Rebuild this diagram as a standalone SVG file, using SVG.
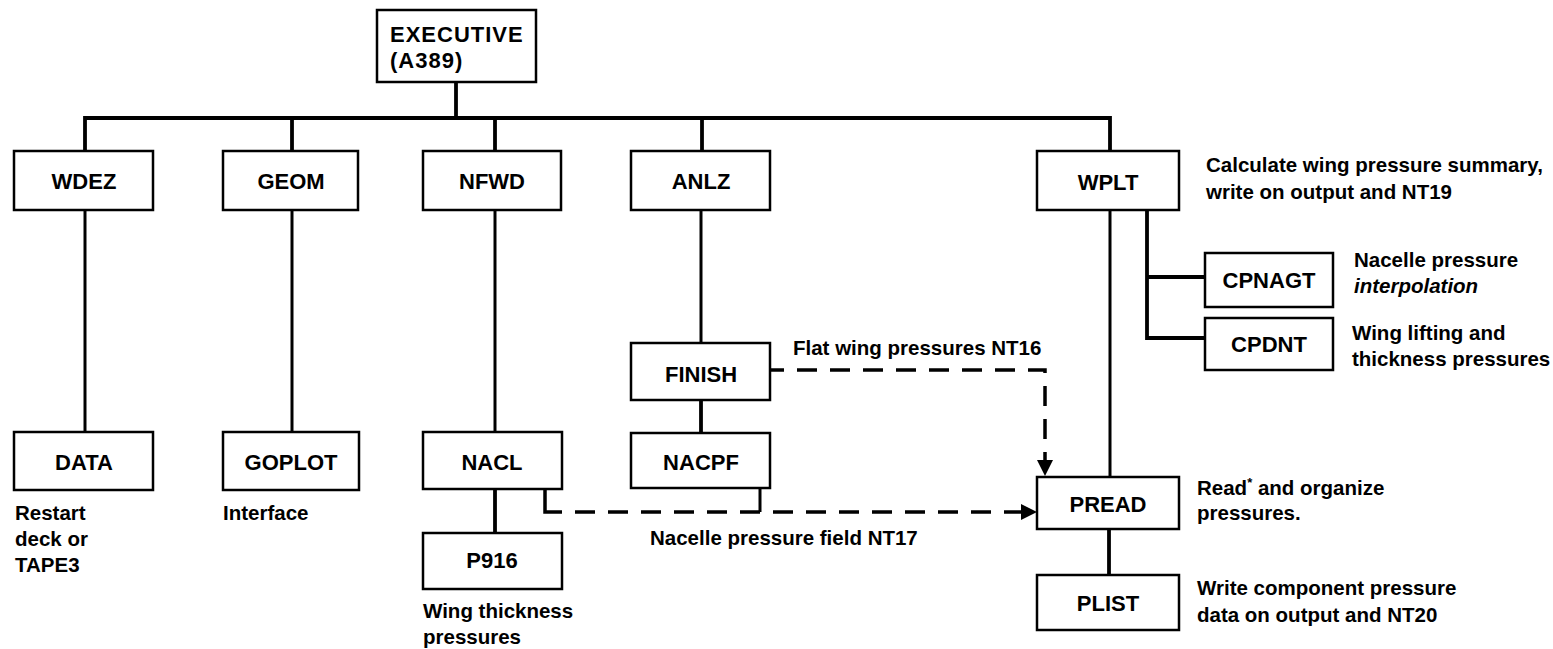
<svg xmlns="http://www.w3.org/2000/svg" width="1553" height="649" viewBox="0 0 1553 649">
<defs>
<style>
.box{fill:#fff;stroke:#000;stroke-width:2.5}
.lbl{font-family:"Liberation Sans",Arial,sans-serif;font-weight:bold;font-size:22px;fill:#000;text-anchor:middle}
.lbl-left{font-family:"Liberation Sans",Arial,sans-serif;font-weight:bold;font-size:22px;fill:#000;letter-spacing:1px}
.desc{font-family:"Liberation Sans",Arial,sans-serif;font-weight:bold;font-size:20.5px;fill:#000}
.solid{fill:none;stroke:#000;stroke-width:3.8}
.thin{fill:none;stroke:#000;stroke-width:3}
.dash{fill:none;stroke:#000;stroke-width:3.5;stroke-dasharray:20 13}
.corner{fill:none;stroke:#000;stroke-width:3.5}
</style>
<marker id="arrow" markerUnits="userSpaceOnUse" markerWidth="16" markerHeight="16" refX="9" refY="8" orient="auto">
<path d="M0,0 L16,8 L0,16 Z" fill="#000"/>
</marker>
</defs>
<rect width="1553" height="649" fill="#fff"/>

<g id="connectors">
<path class="solid" d="M456,82 V118"/>
<path class="solid" d="M85,151 V118 H1110 V151"/>
<path class="solid" d="M292,118 V151"/>
<path class="solid" d="M495,118 V151"/>
<path class="solid" d="M702,118 V151"/>
<path class="thin" d="M85,210 V432"/>
<path class="thin" d="M292,210 V432"/>
<path class="thin" d="M495,210 V432"/>
<path class="solid" d="M495,489 V533"/>
<path class="thin" d="M701,210 V343"/>
<path class="solid" d="M701,400 V433"/>
<path class="thin" d="M1110,210 V477"/>
<path class="solid" d="M1147,210 V338 H1205"/>
<path class="solid" d="M1147,277 H1205"/>
<path class="solid" d="M1109,529 V575"/>
<path class="thin" d="M760,488 V512"/>
<path class="corner" d="M545,489 V512 H562"/>
<path class="dash" d="M575,512 H1030" marker-end="url(#arrow)"/>
<path class="corner" d="M770,370 H784"/>
<path class="dash" d="M797,370 H1045 V469" marker-end="url(#arrow)"/>
</g>

<g id="executive">
<rect class="box" x="377" y="10" width="159" height="72"/>
<text class="lbl-left" x="390" y="42">EXECUTIVE</text>
<text class="lbl-left" x="390" y="68">(A389)</text>
</g>

<g id="wdez">
<rect class="box" x="14" y="151" width="139" height="59"/>
<text class="lbl" x="84" y="189">WDEZ</text>
</g>
<g id="geom">
<rect class="box" x="223" y="151" width="135" height="59"/>
<text class="lbl" x="291" y="189">GEOM</text>
</g>
<g id="nfwd">
<rect class="box" x="423" y="151" width="138" height="59"/>
<text class="lbl" x="492" y="189">NFWD</text>
</g>
<g id="anlz">
<rect class="box" x="631" y="151" width="139" height="59"/>
<text class="lbl" x="701" y="189">ANLZ</text>
</g>
<g id="wplt">
<rect class="box" x="1037" y="151" width="142" height="59"/>
<text class="lbl" x="1108" y="190">WPLT</text>
<text class="desc" x="1206" y="172">Calculate wing pressure summary,</text>
<text class="desc" x="1206" y="199">write on output and NT19</text>
</g>

<g id="cpnagt">
<rect class="box" x="1205" y="253" width="128" height="54"/>
<text class="lbl" x="1269" y="288">CPNAGT</text>
<text class="desc" x="1354" y="267">Nacelle pressure</text>
<text class="desc" x="1354" y="293" font-style="italic">interpolation</text>
</g>
<g id="cpdnt">
<rect class="box" x="1205" y="318" width="128" height="52"/>
<text class="lbl" x="1269" y="352">CPDNT</text>
<text class="desc" x="1352" y="340">Wing lifting and</text>
<text class="desc" x="1352" y="366">thickness pressures</text>
</g>

<g id="finish">
<rect class="box" x="631" y="343" width="139" height="57"/>
<text class="lbl" x="701" y="382">FINISH</text>
</g>
<g id="nacpf">
<rect class="box" x="631" y="433" width="139" height="55"/>
<text class="lbl" x="701" y="470">NACPF</text>
</g>

<g id="data">
<rect class="box" x="14" y="432" width="139" height="58"/>
<text class="lbl" x="84" y="470">DATA</text>
<text class="desc" x="15" y="520">Restart</text>
<text class="desc" x="15" y="546">deck or</text>
<text class="desc" x="15" y="572">TAPE3</text>
</g>
<g id="goplot">
<rect class="box" x="223" y="432" width="136" height="58"/>
<text class="lbl" x="291" y="470">GOPLOT</text>
<text class="desc" x="223" y="520">Interface</text>
</g>
<g id="nacl">
<rect class="box" x="423" y="432" width="139" height="57"/>
<text class="lbl" x="492" y="470">NACL</text>
</g>
<g id="p916">
<rect class="box" x="423" y="533" width="139" height="56"/>
<text class="lbl" x="492" y="568">P916</text>
<text class="desc" x="423" y="618">Wing thickness</text>
<text class="desc" x="423" y="644">pressures</text>
</g>

<g id="pread">
<rect class="box" x="1037" y="477" width="142" height="52"/>
<text class="lbl" x="1108" y="512">PREAD</text>
<text class="desc" x="1197" y="495">Read<tspan font-size="13" dy="-8">*</tspan><tspan dy="8"> and organize</tspan></text>
<text class="desc" x="1197" y="520">pressures.</text>
</g>
<g id="plist">
<rect class="box" x="1037" y="575" width="142" height="55"/>
<text class="lbl" x="1108" y="611">PLIST</text>
<text class="desc" x="1197" y="595">Write component pressure</text>
<text class="desc" x="1197" y="622">data on output and NT20</text>
</g>

<g id="labels">
<text class="desc" x="793" y="355">Flat wing pressures NT16</text>
<text class="desc" x="650" y="545" font-size="21">Nacelle pressure field NT17</text>
</g>
</svg>
